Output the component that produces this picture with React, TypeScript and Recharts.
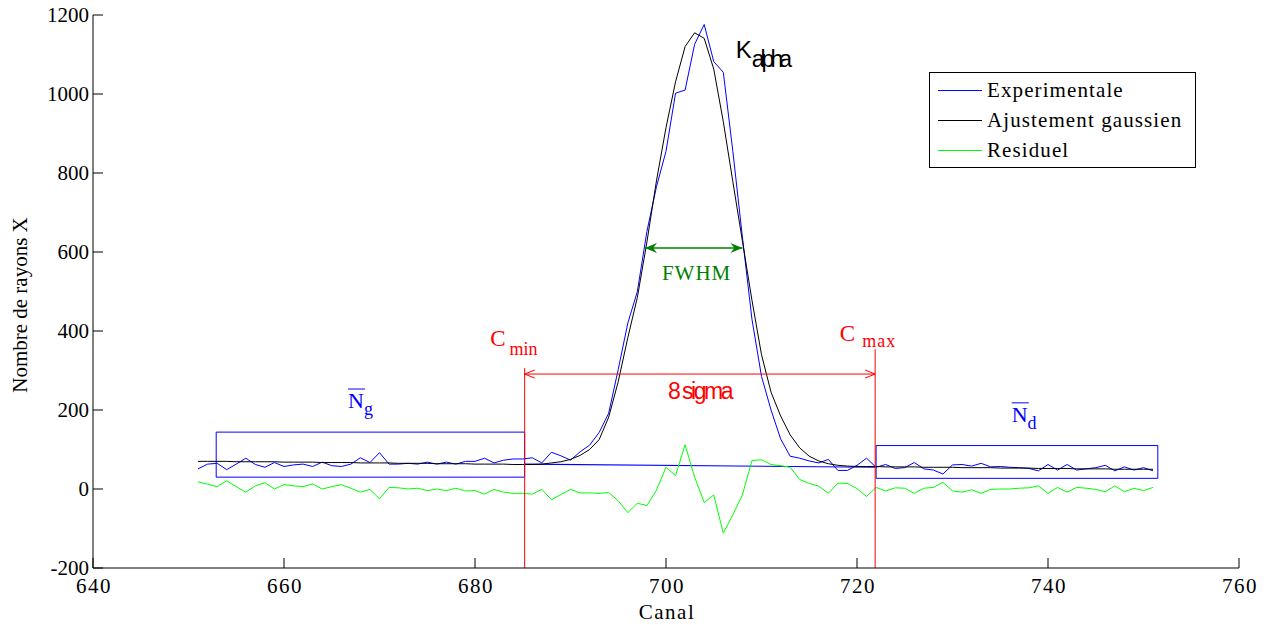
import React from "react";
import {
  ComposedChart,
  Line,
  XAxis,
  YAxis,
  Legend,
  Label,
  ReferenceArea,
  ReferenceLine,
  ReferenceDot,
} from "recharts";

// channels 651..751
const channels = Array.from({ length: 101 }, (_, i) => 651 + i);

const experimentale = [
  51, 63, 65, 49, 63, 78, 62, 55, 67, 57,
  61, 63, 57, 68, 59, 57, 63, 79, 67, 92,
  63, 63, 65, 63, 68, 63, 68, 63, 70, 70,
  78, 66, 73, 76, 76, 79, 66, 93, 84, 73,
  94, 111, 143, 192, 303, 420, 500, 652, 765, 855,
  1002, 1010, 1126, 1176, 1082, 1055, 855, 638, 430, 285,
  200, 127, 83, 78, 71, 66, 75, 47, 47, 60,
  78, 55, 62, 52, 54, 67, 51, 48, 38, 61,
  62, 58, 65, 56, 57, 55, 54, 52, 46, 62,
  48, 62, 48, 51, 54, 60, 46, 56, 48, 54,
  46,
];

const ajustement = [
  70, 70, 70, 70, 69, 69, 69, 69, 69, 68,
  68, 68, 68, 67, 67, 67, 67, 66, 66, 66,
  66, 65, 65, 65, 65, 64, 64, 64, 64, 63,
  63, 63, 63, 62, 62, 62, 63, 66, 69, 75,
  85, 100, 125, 182, 272, 383, 485, 625, 780, 915,
  1031, 1120, 1155, 1141, 1063, 930, 778, 628, 478, 340,
  245, 185, 137, 104, 83, 71, 64, 60, 58, 57,
  57, 57, 56, 56, 56, 56, 55, 55, 55, 55,
  54, 54, 54, 54, 53, 53, 53, 53, 52, 52,
  52, 52, 51, 51, 51, 51, 50, 50, 50, 50,
  50,
];

const residuel = [
  18, 12, 6, 21, 6, -8, 8, 16, 0, 11,
  8, 6, 13, 0, 6, 11, 2, -8, -1, -25,
  4, 3, 0, 2, -4, 0, -4, 2, -5, -4,
  -13, -1, -8, -11, -11, -13, -1, -27, -14, -1,
  -10, -10, -11, -9, -30, -60, -36, -42, -3, 55,
  34, 112, 30, -34, -15, -112, -65, -15, 72, 74,
  62, 59, 55, 24, 14, 7, -11, 15, 14, 1,
  -19, 4, -5, 3, 2, -11, 2, 4, 17, -5,
  -8, -2, -11, -1, 0, 0, 2, 3, 8, -11,
  4, -8, 4, 2, -1, -7, 8, -7, 2, -4,
  4,
];

const xTicks = [640, 660, 680, 700, 720, 740, 760];
const yTicks = [-200, 0, 200, 400, 600, 800, 1000, 1200];

// annotation anchors (data units)
const cMin = 685.2;
const cMax = 721.9;
const ngBox = { x1: 652.9, x2: 685.2, y1: 30, y2: 144 };
const ndBox = { x1: 722, x2: 751.5, y1: 27, y2: 110 };
const bgLine = [
  { x: cMin, y: 63 },
  { x: cMax, y: 55 },
];
const sigmaY = 291;
const fwhm = { x1: 697.8, x2: 708, y: 610 };

const data = channels.map((c, i) => ({
  canal: c,
  exp: experimentale[i],
  fit: ajustement[i],
  res: residuel[i],
}));

const SERIF = "'Liberation Serif', 'Times New Roman', serif";
const SANS = "'Liberation Sans', Arial, sans-serif";
const FS = 21;

const LeftTick = ({ x, y, payload }: any) => (
  <g>
    <line x1={x} y1={y} x2={x + 10} y2={y} stroke="#000" />
    <text x={x - 4} y={y} textAnchor="end" dominantBaseline="central" fontFamily={SERIF} fontSize={FS} fill="#000">
      {payload.value}
    </text>
  </g>
);
const RightTick = ({ x, y }: any) => <line x1={x - 10} y1={y} x2={x} y2={y} stroke="#000" />;
const BottomTick = ({ x, y, payload }: any) => (
  <g>
    <line x1={x} y1={y} x2={x} y2={y - 10} stroke="#000" />
    <text x={x + 1} y={y + 10} textAnchor="middle" dominantBaseline="hanging" fontFamily={SERIF} fontSize={FS} letterSpacing={1.5} fill="#000">
      {payload.value}
    </text>
  </g>
);
const TopTick = ({ x, y }: any) => <line x1={x} y1={y} x2={x} y2={y + 10} stroke="#000" />;

const arrowShape = (color: string, filled: boolean) => (p: any) => {
  const { x1, y1, x2, y2 } = p;
  const L = filled ? 12 : 10;
  const H = filled ? 5 : 4;
  return (
    <g>
      <line x1={x1} y1={y1} x2={x2} y2={y2} stroke={color} strokeWidth={filled ? 1.5 : 1} />
      {filled ? (
        <>
          <polygon points={`${x1},${y1} ${x1 + L},${y1 - H} ${x1 + L - 4},${y1} ${x1 + L},${y1 + H}`} fill={color} />
          <polygon points={`${x2},${y2} ${x2 - L},${y2 - H} ${x2 - L + 4},${y2} ${x2 - L},${y2 + H}`} fill={color} />
        </>
      ) : (
        <>
          <polyline points={`${x1 + L},${y1 - H} ${x1},${y1} ${x1 + L},${y1 + H}`} fill="none" stroke={color} />
          <polyline points={`${x2 - L},${y2 - H} ${x2},${y2} ${x2 - L},${y2 + H}`} fill="none" stroke={color} />
        </>
      )}
    </g>
  );
};

const textMark = (render: (cx: number, cy: number) => React.ReactNode) => (p: any) => <g>{render(p.cx, p.cy)}</g>;

const LegendBox = () => {
  const rows = [
    { name: "Experimentale", color: "#0000ff" },
    { name: "Ajustement gaussien", color: "#000000" },
    { name: "Residuel", color: "#00ff00" },
  ];
  return (
    <div style={{ position: "relative", width: 267, height: 96, border: "1px solid #000", background: "#fff", boxSizing: "border-box" }}>
      {rows.map((r, i) => (
        <div key={r.name} style={{ position: "absolute", left: 8, top: 17 + i * 30 - 14, height: 28, display: "flex", alignItems: "center" }}>
          <div style={{ width: 44, height: 0, borderTop: `1px solid ${r.color}` }} />
          <span style={{ marginLeft: 5, fontFamily: SERIF, fontSize: FS, letterSpacing: 1.1, color: "#000", whiteSpace: "nowrap" }}>{r.name}</span>
        </div>
      ))}
    </div>
  );
};

export default function App() {
  return (
    <div style={{ position: "absolute", left: 0, top: 0, background: "#fff" }}>
      <ComposedChart width={1271} height={625} data={data} margin={{ top: 15, right: 32, bottom: 0, left: 13 }}>
        <XAxis
          dataKey="canal"
          type="number"
          domain={[640, 760]}
          ticks={xTicks}
          allowDataOverflow
          height={57}
          tickLine={false}
          tickSize={0}
          tickMargin={0}
          axisLine={{ stroke: "#000" }}
          tick={<BottomTick />}
        >
          <Label
            content={(p: any) => (
              <text x={p.viewBox.x + p.viewBox.width / 2 + 1} y={p.viewBox.y + 51} textAnchor="middle" fontFamily={SERIF} fontSize={FS} letterSpacing={1.5} fill="#000">
                Canal
              </text>
            )}
          />
        </XAxis>
        <XAxis
          xAxisId="top"
          orientation="top"
          type="number"
          domain={[640, 760]}
          ticks={xTicks}
          allowDataOverflow
          height={0}
          tickLine={false}
          tickSize={0}
          tickMargin={0}
          axisLine={{ stroke: "#000" }}
          tick={<TopTick />}
        />
        <YAxis
          type="number"
          domain={[-200, 1200]}
          ticks={yTicks}
          allowDataOverflow
          width={80}
          tickLine={false}
          tickSize={0}
          tickMargin={0}
          axisLine={{ stroke: "#000" }}
          tick={<LeftTick />}
        >
          <Label
            content={(p: any) => {
              const cx = p.viewBox.x + 7;
              const cy = 305;
              return (
                <text x={cx} y={cy} transform={`rotate(-90 ${cx} ${cy})`} textAnchor="middle" dominantBaseline="central" fontFamily={SERIF} fontSize={FS} fill="#000">
                  Nombre de rayons X
                </text>
              );
            }}
          />
        </YAxis>
        <YAxis
          yAxisId="right"
          orientation="right"
          type="number"
          domain={[-200, 1200]}
          ticks={yTicks}
          allowDataOverflow
          width={0}
          tickLine={false}
          tickSize={0}
          tickMargin={0}
          axisLine={{ stroke: "#000" }}
          tick={<RightTick />}
        />
        <Legend
          layout="vertical"
          align="center"
          verticalAlign="middle"
          wrapperStyle={{ left: 929, top: 72, width: 267, height: 96 }}
          content={() => <LegendBox />}
        />

        <ReferenceArea {...ngBox} fill="none" stroke="#0000ff" strokeWidth={1} fillOpacity={0} />
        <ReferenceArea {...ndBox} fill="none" stroke="#0000ff" strokeWidth={1} fillOpacity={0} />
        <ReferenceLine segment={bgLine} stroke="#0000ff" strokeWidth={1.2} />

        <Line dataKey="exp" stroke="#0000ff" strokeWidth={1} dot={false} isAnimationActive={false} />
        <Line dataKey="fit" stroke="#000000" strokeWidth={1} dot={false} isAnimationActive={false} />
        <Line dataKey="res" stroke="#00ff00" strokeWidth={1} dot={false} isAnimationActive={false} />

        <ReferenceLine segment={[{ x: cMin, y: -200 }, { x: cMin, y: 306 }]} stroke="#ff0000" strokeWidth={1} />
        <ReferenceLine segment={[{ x: cMax, y: -200 }, { x: cMax, y: 354 }]} stroke="#ff0000" strokeWidth={1} />
        <ReferenceLine segment={[{ x: cMin, y: sigmaY }, { x: cMax, y: sigmaY }]} shape={arrowShape("#ff0000", false)} />
        <ReferenceLine segment={[{ x: fwhm.x1, y: fwhm.y }, { x: fwhm.x2, y: fwhm.y }]} shape={arrowShape("#008000", true)} />

        <ReferenceDot
          x={703.5}
          y={248}
          r={0}
          shape={textMark((cx, cy) => (
            <text x={cx} y={cy} textAnchor="middle" dominantBaseline="central" fontFamily={SANS} fontSize={23} letterSpacing={-2.5} fill="#ff0000">
              8 sigma
            </text>
          ))}
        />
        <ReferenceDot
          x={703.2}
          y={529}
          r={0}
          shape={textMark((cx, cy) => (
            <text x={cx} y={cy} textAnchor="middle" fontFamily={SERIF} fontSize={FS} letterSpacing={1} fill="#008000">
              FWHM
            </text>
          ))}
        />
        <ReferenceDot
          x={681.6}
          y={362}
          r={0}
          shape={textMark((cx, cy) => (
            <text x={cx} y={cy} fontFamily={SERIF} fontSize={23} fill="#ff0000">
              <tspan>C</tspan>
              <tspan dx={4} dy={9} fontSize={18}>min</tspan>
            </text>
          ))}
        />
        <ReferenceDot
          x={718.2}
          y={375}
          r={0}
          shape={textMark((cx, cy) => (
            <text x={cx} y={cy} fontFamily={SERIF} fontSize={23} fill="#ff0000">
              <tspan>C</tspan>
              <tspan dx={7} dy={6} fontSize={18} letterSpacing={1}>max</tspan>
            </text>
          ))}
        />
        <ReferenceDot
          x={707.3}
          y={1091}
          r={0}
          shape={textMark((cx, cy) => (
            <text x={cx} y={cy} fontFamily={SANS} fontSize={24} fill="#000">
              <tspan>K</tspan>
              <tspan dy={9} fontSize={23} letterSpacing={-4}>alpha</tspan>
            </text>
          ))}
        />
        <ReferenceDot
          x={666.7}
          y={205}
          r={0}
          shape={textMark((cx, cy) => (
            <g>
              <line x1={cx} y1={cy - 19} x2={cx + 17} y2={cy - 19} stroke="#0000ff" />
              <text x={cx} y={cy} fontFamily={SERIF} fontSize={22} fill="#0000ff">
                <tspan>N</tspan>
                <tspan dy={7} fontSize={18}>g</tspan>
              </text>
            </g>
          ))}
        />
        <ReferenceDot
          x={736.2}
          y={170}
          r={0}
          shape={textMark((cx, cy) => (
            <g>
              <line x1={cx} y1={cy - 19} x2={cx + 17} y2={cy - 19} stroke="#0000ff" />
              <text x={cx} y={cy} fontFamily={SERIF} fontSize={22} fill="#0000ff">
                <tspan>N</tspan>
                <tspan dy={7} fontSize={18}>d</tspan>
              </text>
            </g>
          ))}
        />
      </ComposedChart>
    </div>
  );
}
